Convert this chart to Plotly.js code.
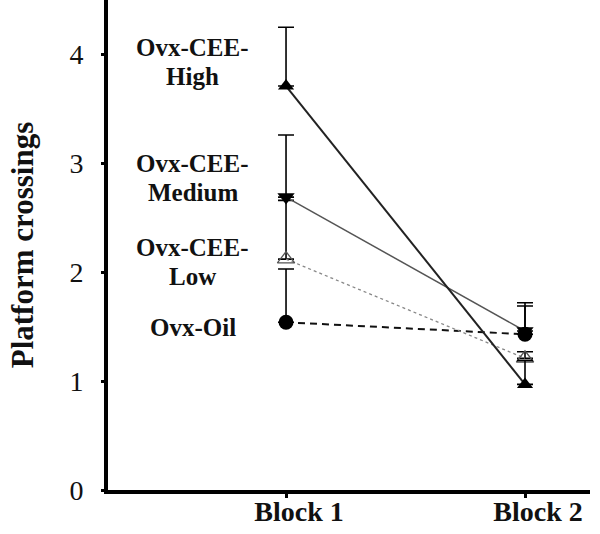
<!DOCTYPE html>
<html>
<head>
<meta charset="utf-8">
<script src="https://cdn.plot.ly/plotly-3.0.1.min.js"></script>
<style>html,body{margin:0;padding:0;background:#fff;}#chart{width:600px;height:534px;}</style>
</head>
<body>
<div id="chart"></div>
<script>
const categories = ["Block 1", "Block 2"];
const groups = ["Ovx-CEE-High", "Ovx-CEE-Medium", "Ovx-CEE-Low", "Ovx-Oil"];
const labelLines = [["Ovx-CEE-", "High"], ["Ovx-CEE-", "Medium"], ["Ovx-CEE-", "Low"], ["Ovx-Oil"]];
const highVals = [3.71, 0.97];
const highErr = [0.54, 0.22];
const medVals = [2.69, 1.46];
const medErr = [0.57, 0.26];
const lowVals = [2.12, 1.21];
const lowErr = [0.54, 0.06];
const oilVals = [1.54, 1.43];
const oilErr = [0.49, 0.26];
const yTicks = [0, 1, 2, 3, 4];

// label placement (layout only, in y-axis units)
const labelPos = [[4.06, 3.80], [3.00, 2.73], [2.23, 1.96], [1.49]];

const SERIF = '"Liberation Serif", "Times New Roman", Times, serif';

function tr(name, y, err, lineStyle, marker) {
  return {
    type: 'scatter', mode: 'lines+markers', name: name,
    x: categories, y: y,
    line: lineStyle, marker: marker,
    error_y: {type: 'data', symmetric: false, array: err, arrayminus: [0, 0],
      color: '#000', thickness: 1.6, width: 8},
    cliponaxis: false
  };
}
const data = [
  tr(groups[3], oilVals, oilErr, {color: '#111', width: 2, dash: '7px,5px'},
     {symbol: 'circle', size: 15, color: '#000'}),
  tr(groups[2], lowVals, lowErr, {color: '#888', width: 1.3, dash: '3px,3px'},
     {symbol: 'triangle-up-open', size: 15, color: '#555', line: {width: 1.3, color: '#555'}}),
  tr(groups[1], medVals, medErr, {color: '#555', width: 1.5},
     {symbol: 'triangle-down', size: 15, color: '#000'}),
  tr(groups[0], highVals, highErr, {color: '#222', width: 2},
     {symbol: 'triangle-up', size: 14, color: '#000'})
];

const annotations = [];
labelLines.forEach((lines, i) => {
  lines.forEach((ln, j) => {
    annotations.push({
      text: '<b>' + ln + '</b>', xref: 'paper', yref: 'y', x: 0.176, y: labelPos[i][j],
      xanchor: 'center', yanchor: 'middle', showarrow: false,
      font: {family: SERIF, size: 25, color: '#111'}
    });
  });
});

const layout = {
  width: 600, height: 534,
  margin: {l: 108, r: 10, t: 0, b: 44},
  paper_bgcolor: '#fff', plot_bgcolor: '#fff',
  showlegend: false,
  font: {family: SERIF, color: '#111', size: 18},
  xaxis: {
    type: 'category', range: [-0.745, 1.272],
    showline: true, linecolor: '#000', linewidth: 4,
    ticks: 'outside', ticklen: 4, tickwidth: 3, tickcolor: '#000',
    showgrid: false, zeroline: false,
    tickvals: categories, ticktext: categories.map(c => '<b>' + c + '</b>'),
    ticklabelshift: 13, ticklabelstandoff: -11,
    tickfont: {family: SERIF, size: 28, color: '#111'}
  },
  yaxis: {
    range: [0, 4.5], tickvals: yTicks,
    showline: true, linecolor: '#000', linewidth: 4,
    ticks: 'outside', ticklen: 3, tickwidth: 3, tickcolor: '#000',
    showgrid: false, zeroline: false,
    ticklabelstandoff: 12,
    tickfont: {family: SERIF, size: 28, color: '#111'},
    title: {text: '<b>Platform crossings</b>', standoff: 28,
      font: {family: SERIF, size: 31, color: '#111'}}
  },
  annotations: annotations
};
Plotly.newPlot('chart', data, layout, {displayModeBar: false, staticPlot: true});
</script>
</body>
</html>
